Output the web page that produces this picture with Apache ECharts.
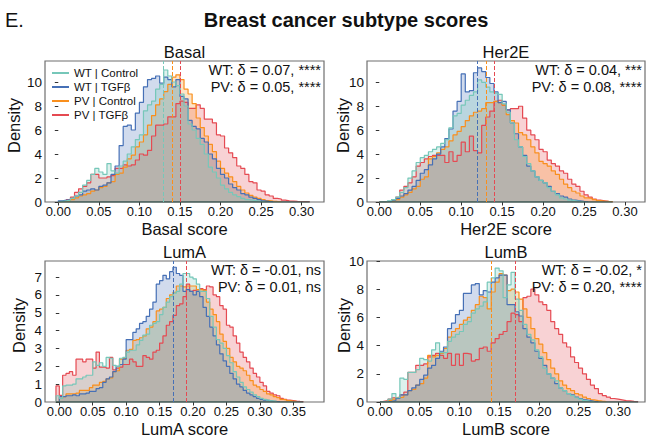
<!DOCTYPE html>
<html><head><meta charset="utf-8">
<script src="https://cdn.jsdelivr.net/npm/echarts@6/dist/echarts.min.js"></script>
<style>html,body{margin:0;padding:0;background:#fff}#c{width:646px;height:442px}</style>
</head><body><div id="c"></div>
<script>
const FONT = 'Liberation Sans, Arial, Helvetica, sans-serif';
const groups = ['WT | Control', 'WT | TGFβ', 'PV | Control', 'PV | TGFβ'];
const colors = ['#76c7b9', '#4670b6', '#f98f1d', '#e54a52'];
const binWidth = 0.005;

// ---- Basal (densities per 0.005 bin) ----
const basalWTControl = [0.05,0.1,0.15,0.3,0.5,0.8,1.4,1.8,2.3,2.8,2.5,2.3,3.2,2.6,2.4,3.0,3.4,4.0,4.6,5.2,5.6,7.6,8.1,8.4,9.4,9.8,11.0,10.5,10.0,9.7,9.0,8.0,6.5,6.0,5.3,4.8,4.0,2.9,2.5,2.0,1.4,1.1,0.8,0.6,0.45,0.3,0.2,0.15,0.1,0.05,0.02];
const basalWTTgfb = [0.1,0.15,0.2,0.3,0.5,0.6,0.9,1.0,1.1,1.0,1.3,1.4,1.6,2.3,3.0,4.7,6.3,6.4,6.0,7.4,8.3,9.6,10.2,10.3,10.5,9.9,10.4,10.2,9.6,10.2,8.8,8.6,6.8,6.3,6.1,5.3,5.0,4.0,3.6,2.8,2.3,2.0,1.5,1.2,1.0,0.7,0.6,0.4,0.3,0.2,0.1,0.05,0.03];
const basalPVControl = [0.02,0.05,0.1,0.2,0.35,0.5,0.6,0.7,0.9,1.0,1.2,1.3,1.6,1.7,2.3,2.4,2.9,3.6,3.9,4.6,5.0,5.6,6.4,7.2,8.1,8.6,9.2,9.8,10.4,10.6,10.2,9.4,9.0,8.2,7.0,6.2,5.5,4.8,4.2,3.4,2.8,2.4,2.1,1.7,1.3,1.0,0.75,0.55,0.4,0.3,0.2,0.12,0.08,0.05,0.03];
const basalPVTgfb = [0.05,0.1,0.2,0.4,0.8,1.1,1.3,1.6,2.3,2.3,2.0,2.0,2.1,2.2,2.8,2.8,3.1,3.0,3.1,3.5,4.0,3.9,4.3,5.5,6.4,6.4,6.5,7.1,7.1,8.2,8.4,8.3,7.8,7.8,8.1,7.8,6.9,6.9,6.6,5.6,5.5,4.5,4.1,3.7,3.0,2.8,2.3,1.7,1.6,1.0,0.9,0.6,0.5,0.3,0.25,0.15,0.1,0.08,0.05,0.04,0.03,0.02];
const basalStarts = [0, 0, 0, 0];
const basalMeans = [0.133, 0.1357, 0.1434, 0.1504];
const basalStats = ['WT: δ = 0.07, ****', 'PV: δ = 0.05, ****'];

// ---- Her2E ----
const her2eWTControl = [0,0.02,0.1,0.2,0.4,0.8,1.2,2.0,2.6,3.3,3.7,3.9,4.2,4.4,4.6,4.9,5.2,6.2,7.2,7.4,8.1,8.5,8.9,9.2,10.2,10.0,9.6,9.2,9.1,9.0,8.2,7.5,6.6,5.2,4.6,3.8,3.2,2.6,2.1,1.8,1.6,1.2,0.9,0.6,0.35,0.25,0.15,0.1,0.05,0.02];
const her2eWTTgfb = [0,0.02,0.05,0.15,0.3,0.5,0.7,1.0,1.3,1.8,2.4,2.7,3.1,3.6,4.0,4.6,5.3,6.1,7.6,8.4,10.7,9.2,9.3,10.8,11.2,10.9,10.4,9.9,9.2,8.3,8.4,7.7,6.6,5.7,4.6,3.9,3.0,2.6,2.1,1.8,1.6,1.3,0.9,0.7,0.5,0.4,0.25,0.15,0.1,0.05,0.02];
const her2ePVControl = [0,0.02,0.05,0.1,0.2,0.4,0.6,0.8,1.1,1.3,1.9,2.1,3.6,3.8,4.1,4.4,4.6,5.1,5.6,5.9,6.3,6.8,7.2,7.5,7.6,7.8,8.3,8.3,8.4,8.3,8.1,7.3,6.8,6.6,5.8,5.6,5.2,4.6,4.1,3.4,3.2,3.0,2.6,2.3,1.9,1.5,1.2,0.9,0.75,0.5,0.35,0.3,0.2,0.12,0.08,0.05,0.03];
const her2ePVTgfb = [0,0.02,0.05,0.2,0.4,1.0,1.3,1.6,2.1,3.0,3.3,3.6,3.8,3.9,3.9,3.9,3.3,4.2,3.4,3.9,5.0,4.2,5.5,4.3,4.1,6.4,7.1,7.6,8.4,8.5,8.1,7.7,7.8,7.8,8.0,7.0,6.0,5.6,5.2,4.4,4.2,3.5,3.2,3.0,2.6,2.4,1.9,1.5,1.3,0.9,0.6,0.4,0.25,0.15,0.1,0.05,0.03];
const her2eStarts = [0, 0, 0, 0];
const her2eMeans = [0.1205, 0.1222, 0.1331, 0.1433];
const her2eStats = ['WT: δ = 0.04, ***', 'PV: δ = 0.08, ****'];

// ---- LumA ----
const lumAWTControl = [0.35,0.2,0.9,0.95,0.95,1.0,1.3,1.3,1.4,1.5,1.5,2.25,2.05,2.2,2.0,2.5,2.45,2.05,2.0,2.45,2.5,2.8,2.9,2.9,3.2,3.45,3.75,3.8,4.3,4.4,4.5,4.9,5.3,5.6,5.9,6.1,6.2,6.6,7.2,7.2,7.0,6.9,6.6,6.2,6.2,5.8,4.8,4.2,3.5,3.3,3.0,2.6,2.2,1.7,1.4,1.1,0.85,0.7,0.55,0.4,0.3,0.2,0.15,0.1,0.06,0.03];
const lumAWTTgfb = [0.3,0.3,0.35,0.35,0.4,0.35,0.45,0.45,0.5,0.6,0.6,0.75,0.8,1.1,1.3,1.4,1.7,2.0,2.1,2.4,3.5,3.5,3.9,4.1,4.4,4.5,4.8,5.2,5.6,6.6,6.8,7.1,6.9,7.3,7.55,7.2,7.1,6.2,6.3,6.2,6.0,6.2,5.9,5.3,4.8,4.2,3.7,3.2,2.7,2.3,2.0,1.6,1.3,1.0,0.85,0.65,0.5,0.4,0.3,0.2,0.15,0.1,0.08,0.05,0.03,0.02];
const lumAPVControl = [0.2,0.3,0.45,0.45,0.45,0.5,0.65,0.65,0.65,0.8,0.95,0.95,1.1,1.15,1.3,1.35,1.7,1.75,2.4,2.45,2.9,2.95,3.45,3.5,3.6,3.7,4.1,4.2,4.5,5.1,5.2,5.3,5.8,6.0,6.15,6.5,6.5,6.45,6.5,6.5,6.5,6.3,6.3,6.25,5.6,5.2,4.9,4.5,3.8,3.4,3.0,2.5,2.25,2.0,1.9,1.75,1.5,1.2,0.95,0.85,0.7,0.6,0.45,0.4,0.3,0.25,0.15,0.12,0.08,0.05,0.03];
const lumAPVTgfb = [0.9,0.37,1.5,1.6,1.7,1.5,2.4,2.4,2.25,2.4,2.4,1.9,2.8,1.95,1.95,1.9,2.5,1.8,1.9,1.95,2.1,2.1,2.4,2.25,2.0,2.0,2.6,2.5,2.4,2.8,2.9,3.3,3.7,4.3,4.5,4.85,5.4,5.5,5.9,6.6,6.2,6.25,6.3,6.35,6.3,6.5,6.45,6.0,5.9,5.4,5.2,4.3,4.2,3.7,3.3,2.8,2.5,2.25,1.9,1.6,1.4,1.1,0.9,0.6,0.5,0.4,0.35,0.2,0.15,0.1,0.08,0.05,0.03,0.02];
const lumAStarts = [-0.005, 0, 0, -0.005];
const lumAMeans = [0.174, 0.169, 0.1854, 0.1934];
const lumAStats = ['WT: δ = -0.01, ns', 'PV: δ = 0.01, ns'];

// ---- LumB ----
const lumBWTControl = [0,0.05,0.2,0.6,0.3,1.7,1.6,2.1,2.1,2.3,3.1,3.0,2.9,3.7,4.2,3.5,3.5,4.3,4.6,4.8,5.0,5.5,5.7,6.3,6.6,6.8,7.1,8.5,8.8,9.5,9.3,7.4,8.3,9.2,7.3,6.5,5.5,4.8,4.4,3.7,3.2,2.4,2.0,1.7,1.5,1.0,0.8,0.6,0.45,0.3,0.2,0.1,0.05,0.02];
const lumBWTTgfb = [0,0.02,0.05,0.1,0.25,0.5,0.5,0.8,1.0,1.2,1.6,1.9,2.4,2.6,3.1,3.6,3.9,5.2,5.6,6.2,6.5,7.7,7.7,8.3,8.4,7.6,7.9,7.8,8.5,8.8,9.0,9.0,6.9,6.9,6.4,6.1,5.2,4.6,4.2,3.6,3.1,2.6,2.0,1.7,1.3,1.0,0.8,0.6,0.5,0.35,0.25,0.15,0.1,0.05,0.03];
const lumBPVControl = [0,0.02,0.1,0.2,0.3,0.35,0.5,0.8,0.9,1.2,1.3,1.7,3.3,3.2,3.3,3.45,3.8,4.6,5.0,5.2,5.5,5.8,6.0,6.5,6.9,7.5,7.4,6.6,7.8,8.5,9.1,9.0,7.9,8.0,7.8,7.3,6.6,6.0,5.2,4.5,4.1,3.5,3.0,2.4,2.0,1.5,1.2,0.95,0.8,0.6,0.5,0.35,0.25,0.15,0.1,0.06,0.03];
const lumBPVTgfb = [0.05,0.1,0.2,0.3,0.35,0.5,0.7,2.1,2.1,2.6,2.6,2.7,3.2,3.3,3.45,3.3,3.1,3.45,2.6,3.4,2.6,3.45,3.4,2.9,3.0,3.8,3.9,3.6,4.2,4.5,4.8,5.0,5.7,6.3,6.2,5.7,7.4,7.5,8.0,7.6,7.1,6.9,6.5,5.7,5.2,4.8,4.2,3.9,3.2,2.8,2.4,2.0,1.6,1.2,0.95,0.6,0.45,0.35,0.25,0.2,0.15,0.1,0.08,0.05,0.03];
const lumBStarts = [0, 0, 0, 0];
const lumBMeans = [0.1406, 0.1351, 0.1439, 0.1687];
const lumBStats = ['WT: δ = -0.02, *', 'PV: δ = 0.20, ****'];

// ---- tick labels ----
const xTicks030 = [0, 0.05, 0.10, 0.15, 0.20, 0.25, 0.30];
const xTicks035 = [0, 0.05, 0.10, 0.15, 0.20, 0.25, 0.30, 0.35];
const yTicks10 = [0, 2, 4, 6, 8, 10];
const yTicks7 = [0, 1, 2, 3, 4, 5, 6, 7];

const panels = [
  { title: 'Basal', xName: 'Basal score', data: [basalWTControl, basalWTTgfb, basalPVControl, basalPVTgfb], starts: basalStarts, means: basalMeans, stats: basalStats,
    xTicks: xTicks030, yTicks: yTicks10, xMin: -0.0164, xMax: 0.3276, yMax: 11.75, grid: { left: 45, top: 61, width: 279, height: 141 }, densX: 14 },
  { title: 'Her2E', xName: 'Her2E score', data: [her2eWTControl, her2eWTTgfb, her2ePVControl, her2ePVTgfb], starts: her2eStarts, means: her2eMeans, stats: her2eStats,
    xTicks: xTicks030, yTicks: yTicks10, xMin: -0.015, xMax: 0.3244, yMax: 11.78, grid: { left: 367, top: 61, width: 278, height: 141 }, densX: 343 },
  { title: 'LumA', xName: 'LumA score', data: [lumAWTControl, lumAWTTgfb, lumAPVControl, lumAPVTgfb], starts: lumAStarts, means: lumAMeans, stats: lumAStats,
    xTicks: xTicks035, yTicks: yTicks7, xMin: -0.0214, xMax: 0.3959, yMax: 7.9, grid: { left: 45, top: 261, width: 279, height: 141 }, densX: 19 },
  { title: 'LumB', xName: 'LumB score', data: [lumBWTControl, lumBWTTgfb, lumBPVControl, lumBPVTgfb], starts: lumBStarts, means: lumBMeans, stats: lumBStats,
    xTicks: xTicks030, yTicks: yTicks10, xMin: -0.0164, xMax: 0.3337, yMax: 10, grid: { left: 367, top: 261, width: 278, height: 141 }, densX: 344 }
];

function stepData(vals, start) {
  const pts = [[start, 0]];
  vals.forEach((v, i) => pts.push([start + i * binWidth, v]));
  pts.push([start + vals.length * binWidth, 0]);
  return pts;
}

const grids = [], xAxes = [], yAxes = [], series = [], graphics = [];
const txt = (x, y, text, size, opts = {}) => ({
  type: 'text', x, y, rotation: opts.rotation || 0, silent: true, z: 100,
  style: { text, fill: '#111', font: `${opts.weight || 'normal'} ${size}px ${FONT}`,
    align: opts.align || 'center', textAlign: opts.align || 'center',
    verticalAlign: 'middle', textVerticalAlign: 'middle' }
});

panels.forEach((p, gi) => {
  const g = p.grid;
  grids.push(Object.assign({ show: true, borderColor: '#6f6f6f', borderWidth: 1.2, backgroundColor: 'transparent' }, g));
  xAxes.push({ type: 'value', gridIndex: gi, min: p.xMin, max: p.xMax,
    axisLine: { show: false }, splitLine: { show: false },
    axisTick: { show: true, length: 3.5, lineStyle: { color: '#333', width: 1 }, customValues: p.xTicks },
    axisLabel: { customValues: p.xTicks, formatter: v => v.toFixed(2), fontSize: 13, color: '#111', fontFamily: FONT, margin: 3 } });
  yAxes.push({ type: 'value', gridIndex: gi, min: 0, max: p.yMax,
    axisLine: { show: false }, splitLine: { show: false },
    axisTick: { show: true, length: 3.5, lineStyle: { color: '#333', width: 1 }, customValues: p.yTicks },
    axisLabel: { customValues: p.yTicks, formatter: v => String(v), fontSize: 13.5, color: '#111', fontFamily: FONT, margin: 3 } });

  // draw order like seaborn layering: last hue first
  [3, 2, 1, 0].forEach(k => {
    series.push({ type: 'line', name: groups[k], xAxisIndex: gi, yAxisIndex: gi, z: 2,
      data: stepData(p.data[k], p.starts[k]), step: 'end', symbol: 'none', silent: true,
      lineStyle: { color: colors[k], width: 1.2 }, itemStyle: { color: colors[k] },
      areaStyle: { color: colors[k], opacity: 0.25 }, emphasis: { disabled: true } });
  });
  let lo = Infinity, hi = -Infinity;
  p.data.forEach((d, k) => { lo = Math.min(lo, p.starts[k]); hi = Math.max(hi, p.starts[k] + d.length * binWidth); });
  series.push({ type: 'line', name: 'base' + gi, xAxisIndex: gi, yAxisIndex: gi, data: [[lo, 0], [hi, 0]],
    symbol: 'none', silent: true, lineStyle: { color: '#3f5b57', width: 1.6 }, z: 4 });
  series.push({ type: 'line', name: 'means' + gi, xAxisIndex: gi, yAxisIndex: gi, data: [], silent: true, z: 8,
    markLine: { silent: true, z: 8, symbol: ['none', 'none'], label: { show: false }, animation: false,
      data: p.means.map((m, k) => ({ xAxis: m, lineStyle: { color: colors[k], width: 1, type: [4, 2], opacity: 1 } })) } });

  const cx = g.left + g.width / 2;
  graphics.push(txt(cx, g.top - 9.5, p.title, 16.5));
  graphics.push(txt(cx, g.top + g.height + 26.5, p.xName, 16.5));
  graphics.push(txt(p.densX, g.top + g.height / 2 - 6, 'Density', 16.5, { rotation: Math.PI / 2 }));
  const rx = g.left + g.width - 3;
  graphics.push(txt(rx, g.top + 9, p.stats[0], 14.5, { align: 'right' }));
  graphics.push(txt(rx, g.top + 25.5, p.stats[1], 14.5, { align: 'right' }));
});

graphics.push(txt(5, 20, 'E.', 20, { align: 'left' }));
graphics.push(txt(346, 20, 'Breast cancer subtype scores', 20, { weight: 'bold' }));

const chart = echarts.init(document.getElementById('c'), null, { renderer: 'svg' });
chart.setOption({
  animation: false,
  backgroundColor: '#fff',
  grid: grids, xAxis: xAxes, yAxis: yAxes, series,
  legend: { data: groups, orient: 'vertical', left: 47, top: 62, itemWidth: 17, itemHeight: 12, itemGap: 2,
    icon: 'path://M0,0L17,0L17,2L0,2Z', selectedMode: false, z: 10,
    textStyle: { fontSize: 11.5, fontFamily: FONT, color: '#111', lineHeight: 12 } },
  graphic: graphics
});
</script></body></html>
